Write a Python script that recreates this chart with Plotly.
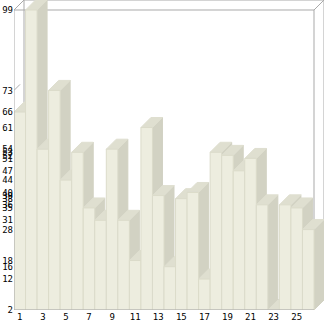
import plotly.graph_objects as go

# ---- data -------------------------------------------------------------
categories = list(range(1, 27))
values = [66, 99, 54, 73, 44, 53, 35, 31, 54, 31, 18, 61, 39,
          16, 38, 40, 12, 53, 52, 47, 51, 36, 2, 36, 35, 28]
x_tick_labels = [1, 3, 5, 7, 9, 11, 13, 15, 17, 19, 21, 23, 25]
y_tick_values = sorted(set(values))

# ---- styling ----------------------------------------------------------
FRONT = "#EDEDDF"
TOP = "#DFDFD0"
SIDE = "#D2D2C3"
EDGE = "#DBDBCA"
FRAME = "#A9A9A9"
FONT = dict(family="DejaVu Sans Mono", size=9, color="#000000")

W, H = 326, 321
ML, MR, MT, MB = 14, 2, 0, 11
PLOT_W = W - ML - MR
PLOT_H = H - MT - MB
DEPTH = 10  # pixel depth of the oblique box

y_min, y_max = min(values), max(values)
n = len(categories)
# depth offsets converted to axis units
DX = DEPTH * n / (PLOT_W - DEPTH)
DY = DEPTH * (y_max - y_min) / (PLOT_H - DEPTH)

x_left = categories[0] - 0.5
x_right = categories[-1] + 0.5

fig = go.Figure()


def face(xs, ys, color, line_color=None):
    fig.add_trace(go.Scatter(
        x=xs + [xs[0]], y=ys + [ys[0]],
        mode="lines", fill="toself", fillcolor=color,
        line=dict(color=line_color or color, width=1),
        hoverinfo="skip", showlegend=False,
    ))


# bars painted left to right so each one hides its neighbour's side
for c, v in zip(categories, values):
    x0, x1 = c - 0.5, c + 0.5
    face([x1, x1, x1 + DX, x1 + DX], [y_min, v, v + DY, y_min + DY], SIDE)
    face([x0, x1, x1 + DX, x0 + DX], [v, v, v + DY, v + DY], TOP)
    if v > y_min:
        face([x0, x1, x1, x0], [y_min, y_min, v, v], FRONT, EDGE)

shapes = []


def seg(x0, y0, x1, y1, layer="below"):
    shapes.append(dict(type="line", xref="x", yref="y", x0=x0, y0=y0,
                       x1=x1, y1=y1, layer=layer,
                       line=dict(color=FRAME, width=1)))


# back wall
seg(x_left + DX, y_min + DY, x_left + DX, y_max + DY)
seg(x_left + DX, y_max + DY, x_right + DX, y_max + DY)
seg(x_right + DX, y_max + DY, x_right + DX, y_min + DY)
seg(x_left + DX, y_min + DY, x_right + DX, y_min + DY)
# front frame and connecting edges
seg(x_left, y_max, x_right, y_max)
seg(x_right, y_min, x_right, y_max)
seg(x_left, y_max, x_left + DX, y_max + DY)
seg(x_right, y_max, x_right + DX, y_max + DY)
seg(x_right, y_min, x_right + DX, y_min + DY)
# tick marks on the left wall
for t in y_tick_values:
    seg(x_left, t, x_left + 0.6 * DX, t + 0.6 * DY)
# axes
seg(x_left, y_min, x_left, y_max, layer="above")
seg(x_left, y_min, x_right, y_min, layer="above")

fig.update_layout(
    width=W, height=H,
    margin=dict(l=ML, r=MR, t=MT, b=MB, pad=0),
    paper_bgcolor="white", plot_bgcolor="white",
    shapes=shapes,
    showlegend=False,
    xaxis=dict(range=[x_left, x_right + DX], tickvals=x_tick_labels,
               ticktext=[str(t) for t in x_tick_labels],
               showgrid=False, zeroline=False, showline=False, ticks="",
               tickfont=FONT, fixedrange=True),
    yaxis=dict(range=[y_min, y_max + DY], tickvals=y_tick_values,
               ticktext=[str(t) for t in y_tick_values],
               showgrid=False, zeroline=False, showline=False, ticks="",
               tickfont=FONT, fixedrange=True),
)

fig.write_html("out.html", config={"displayModeBar": False})
